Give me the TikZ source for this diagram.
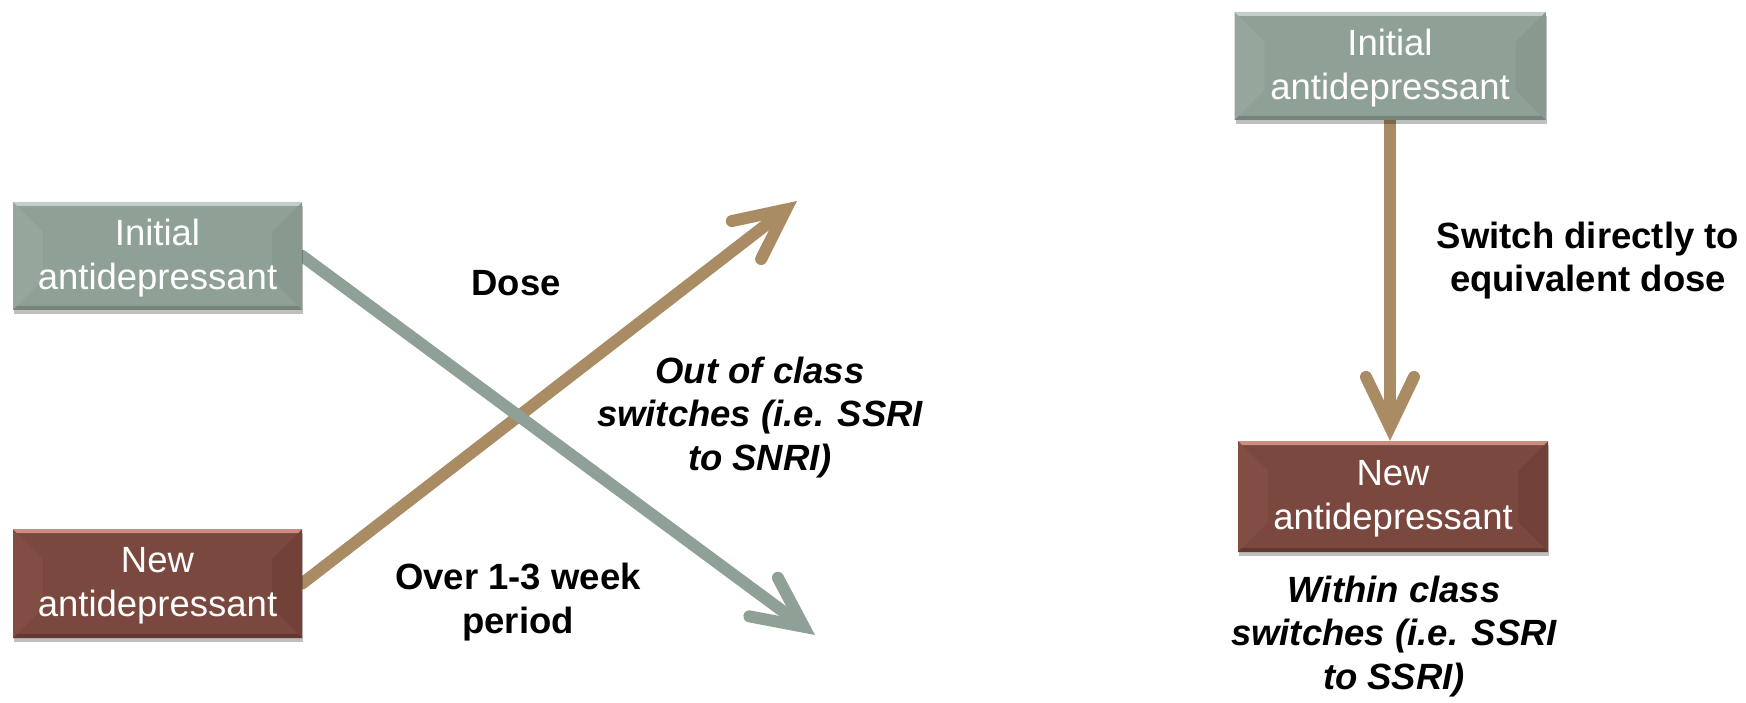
\documentclass[tikz,border=0pt]{standalone}
\usepackage{fontspec}
\setmainfont{Liberation Sans}
\usetikzlibrary{arrows.meta,shadows,backgrounds}

\definecolor{gbase}{RGB}{143,160,150}
\definecolor{ghi}{RGB}{196,206,200}
\definecolor{gleft}{RGB}{150,166,157}
\definecolor{gright}{RGB}{136,153,143}
\definecolor{gbot}{RGB}{118,133,124}
\definecolor{rbase}{RGB}{122,72,62}
\definecolor{rhi}{RGB}{204,140,130}
\definecolor{rleft}{RGB}{130,78,68}
\definecolor{rright}{RGB}{114,66,57}
\definecolor{rbot}{RGB}{98,56,48}
\definecolor{tanarrow}{RGB}{169,139,100}
\definecolor{grayarrow}{RGB}{143,161,151}

\newcommand\drawbevel[4]{%
  \fill[#2] (path picture bounding box.north west) -- (path picture bounding box.south west)
     -- ([shift={(30pt,30pt)}]path picture bounding box.south west)
     -- ([shift={(30pt,-30pt)}]path picture bounding box.north west) -- cycle;
  \fill[#3] (path picture bounding box.north east) -- (path picture bounding box.south east)
     -- ([shift={(-30pt,30pt)}]path picture bounding box.south east)
     -- ([shift={(-30pt,-30pt)}]path picture bounding box.north east) -- cycle;
  \fill[#1] (path picture bounding box.north west) -- (path picture bounding box.north east)
     -- ([shift={(-4pt,-4pt)}]path picture bounding box.north east)
     -- ([shift={(4pt,-4pt)}]path picture bounding box.north west) -- cycle;
  \fill[#4] (path picture bounding box.south west) -- (path picture bounding box.south east)
     -- ([shift={(-4pt,4pt)}]path picture bounding box.south east)
     -- ([shift={(4pt,4pt)}]path picture bounding box.south west) -- cycle;
}

\begin{document}
\begin{tikzpicture}[x=1pt,y=-1pt,
  box/.style={rectangle, inner sep=0pt, align=center, text=white,
    font=\fontsize{36.5}{43.5}\selectfont,
    drop shadow={shadow xshift=1pt, shadow yshift=-4pt, opacity=0.25, fill=black}},
  gbox/.style={box, fill=gbase, path picture={\drawbevel{ghi}{gleft}{gright}{gbot}}},
  rbox/.style={box, fill=rbase, path picture={\drawbevel{rhi}{rleft}{rright}{rbot}}},
  lbl/.style={inner sep=0pt, align=center, text=black,
    font=\fontsize{36.5}{43.5}\selectfont\bfseries},
  ilbl/.style={lbl, font=\fontsize{36.5}{43.5}\selectfont\bfseries\itshape},
  arr/.style={line width=12pt, line cap=round,
    -{Straight Barb[length=50pt, width=48pt, line cap=round, line join=miter]}},
]
\useasboundingbox (0,0) rectangle (1746,703);

\node[gbox, minimum width=289pt, minimum height=108pt, text depth=3pt] (B1) at (157.5,256) {Initial\\antidepressant};
\node[rbox, minimum width=289pt, minimum height=109pt, text depth=3pt] (B2) at (157.5,583.5) {New\\antidepressant};
\node[gbox, minimum width=311pt, minimum height=108pt, text depth=3pt] (B3) at (1390,66) {Initial\\antidepressant};
\node[rbox, minimum width=310pt, minimum height=111pt, text depth=3pt] (B4) at (1393,496.5) {New\\antidepressant};

\coordinate (gtip) at (815,635);
\coordinate (ttip) at (797,201);

\begin{scope}[on background layer]
  \draw[arr, draw=tanarrow] (B2.east) -- (ttip);
  \draw[arr, draw=grayarrow] (B1.east) -- (gtip);
  \draw[arr, draw=tanarrow] (B3.south) -- (B3.south |- B4.north);
\end{scope}

\node[lbl, anchor=base] (dose) at (516,296) {Dose};
\node[ilbl, anchor=base] (outc) at (760,470) {Out of class\\switches (i.e. SSRI\\to SNRI)};
\node[lbl, anchor=base] (over) at (518,633) {Over 1-3 week\\period};
\node[lbl, anchor=base] (sw) at (1588,292) {Switch directly to\\equivalent dose};
\node[ilbl, anchor=base] (within) at (1394,689) {Within class\\switches (i.e. SSRI\\to SSRI)};
\end{tikzpicture}
\end{document}
